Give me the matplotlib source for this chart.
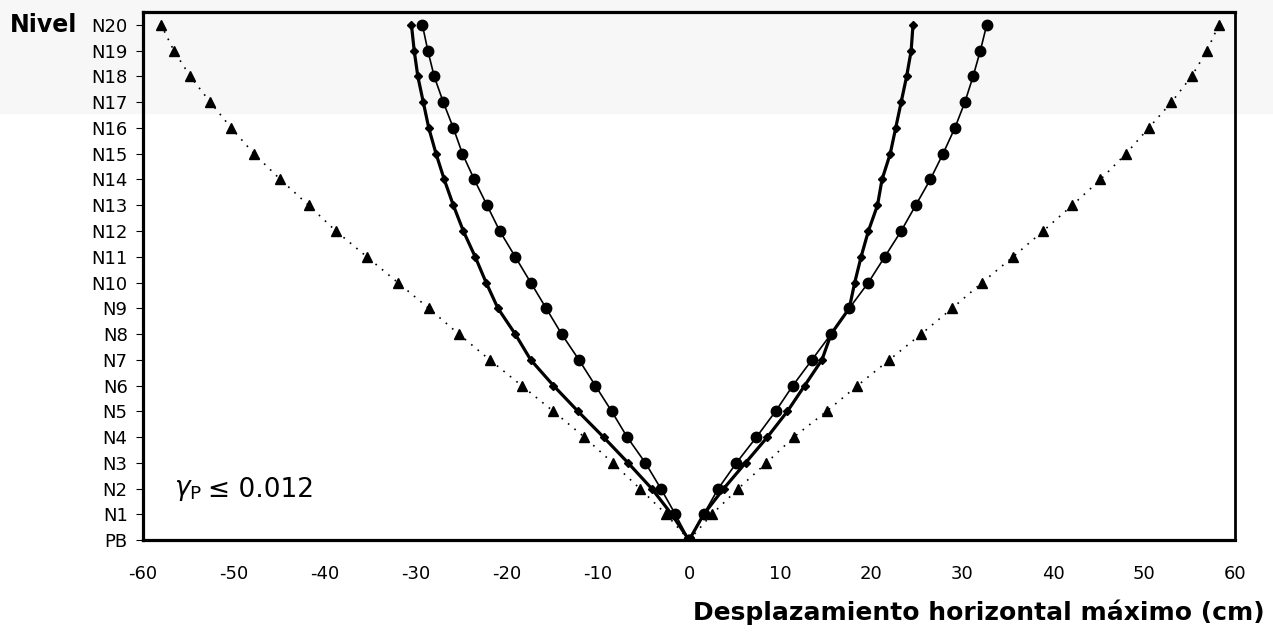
import numpy as np
import matplotlib.pyplot as plt
import matplotlib
from matplotlib.patches import Rectangle

matplotlib.rcParams['font.family'] = ['DejaVu Sans']

# niveles (0 = PB ... 20 = N20)
levels = np.arange(0, 21)
level_labels = ['PB'] + ['N%d' % i for i in range(1, 21)]

# desplazamientos (cm), lado negativo
tri_neg = [0, -2.5, -5.4, -8.4, -11.5, -14.9, -18.4, -21.9, -25.3, -28.6, -32.0,
           -35.4, -38.8, -41.8, -44.9, -47.8, -50.3, -52.6, -54.8, -56.6, -58.0]
dia_neg = [0, -1.9, -4.1, -6.7, -9.4, -12.2, -14.9, -17.4, -19.1, -21.0, -22.3,
           -23.5, -24.8, -25.9, -26.9, -27.8, -28.6, -29.2, -29.8, -30.2, -30.5]
cir_neg = [0, -1.5, -3.1, -4.8, -6.8, -8.5, -10.3, -12.1, -14.0, -15.7, -17.4,
           -19.1, -20.8, -22.2, -23.6, -24.9, -25.9, -27.0, -28.0, -28.7, -29.3]

# lado positivo
tri_pos = [0, 2.5, 5.4, 8.5, 11.5, 15.1, 18.5, 22.0, 25.5, 28.9, 32.2,
           35.6, 38.9, 42.1, 45.2, 48.0, 50.5, 53.0, 55.2, 56.9, 58.2]
dia_pos = [0, 1.6, 3.8, 6.2, 8.6, 10.8, 12.7, 14.6, 15.6, 17.6, 18.2,
           18.9, 19.7, 20.7, 21.2, 22.1, 22.7, 23.3, 23.9, 24.4, 24.6]
cir_pos = [0, 1.6, 3.2, 5.2, 7.4, 9.5, 11.4, 13.5, 15.6, 17.6, 19.7,
           21.5, 23.3, 24.9, 26.5, 27.9, 29.2, 30.3, 31.2, 32.0, 32.7]

xticks = np.arange(-60, 61, 10)

fig = plt.figure(figsize=(12.73, 6.34), dpi=100)
# banda gris del escaneo
fig.add_artist(Rectangle((0, 0.822), 1, 0.178, transform=fig.transFigure,
                         color='#f7f7f7', zorder=-10))
ax = fig.add_axes([0.1123, 0.148, 0.8580, 0.833])
ax.set_facecolor('none')

for tri in (tri_neg, tri_pos):
    ax.plot(tri, levels, color='k', linestyle=(0, (1, 4)), linewidth=1.2,
            marker='^', markersize=7, zorder=3)
for cir in (cir_neg, cir_pos):
    ax.plot(cir, levels, color='k', linewidth=1.2, marker='o', markersize=7.5,
            zorder=4)
for dia in (dia_neg, dia_pos):
    ax.plot(dia, levels, color='k', linewidth=2.3, marker='D', markersize=4,
            zorder=5)

ax.set_xlim(-60, 60)
ax.set_ylim(0, 20.5)
ax.set_xticks(xticks)
ax.set_xticklabels([str(v) for v in xticks], fontsize=13)
ax.set_yticks(levels)
ax.set_yticklabels(level_labels, fontsize=13)
ax.tick_params(axis='x', length=0, pad=18)
ax.tick_params(axis='y', length=5, width=0.8, pad=6, direction='out')

for s in ax.spines.values():
    s.set_linewidth(2.3)
ax.spines['right'].set_linewidth(2.0)

ax.text(-56.6, 1.95, r'$\gamma_{\mathrm{P}}$', fontsize=19, va='center', ha='left')
ax.text(-52.9, 1.95, u'\u2264 0.012', fontsize=19, va='center', ha='left')

fig.text(10 / 1273, 1 - 25 / 634, 'Nivel', fontsize=17, fontweight='bold',
         va='center', ha='left')
fig.text(1265 / 1273, 1 - 612 / 634, u'Desplazamiento horizontal m\u00e1ximo (cm)',
         fontsize=18, fontweight='bold', va='center', ha='right')

plt.savefig('out.png', dpi=100)
